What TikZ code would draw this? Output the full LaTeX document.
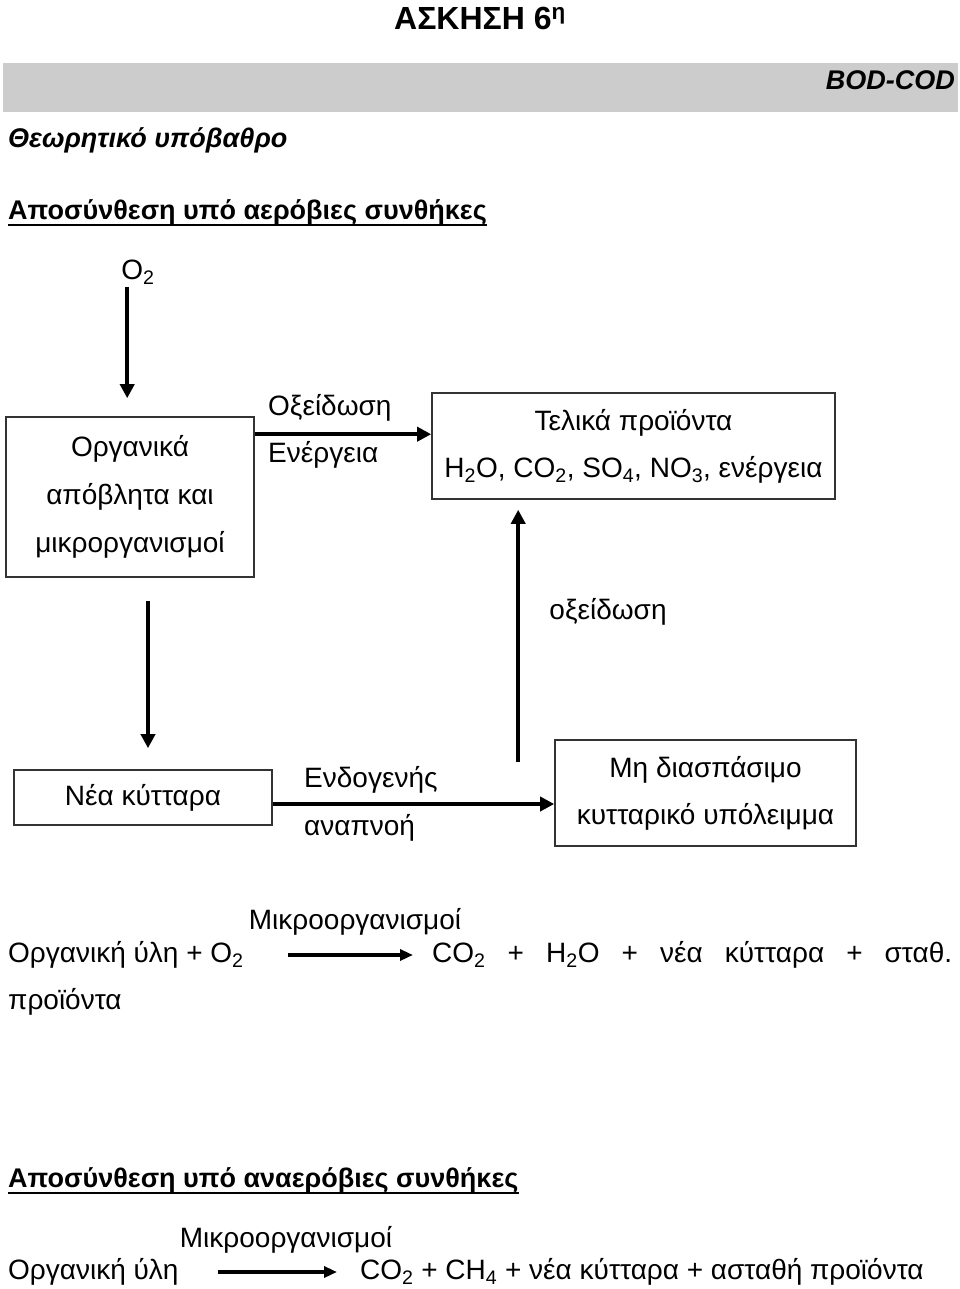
\documentclass[tikz,border=0pt]{standalone}
\usepackage{fontspec}
\setmainfont{Liberation Sans}
\usetikzlibrary{arrows.meta,calc}

\begin{document}
\begin{tikzpicture}[x=1pt,y=-1pt,font=\fontsize{28}{34}\selectfont,
  box/.style={draw=black!80,line width=1.6pt,align=center,inner sep=0pt},
  txt/.style={anchor=west,inner sep=0pt},
  flow/.style={-{Triangle[length=14pt,width=14pt]},line width=3.5pt},
  eqarr/.style={-{Triangle[length=13pt,width=11pt]},line width=3.2pt},
  uline/.style={line width=2pt}]
\useasboundingbox (0,0) rectangle (960,1289);
% header
\fill[black!20] (3,63) rectangle (958,112);
\node[inner sep=0pt,font=\fontsize{32}{38}\bfseries\selectfont] (title) at (480,18) {ΑΣΚΗΣΗ 6\textsuperscript{η}};
\node[anchor=east,inner sep=0pt,font=\fontsize{27}{32}\bfseries\itshape\selectfont] (bod) at (955,80) {BOD-COD};
\node[txt,font=\fontsize{27}{32}\bfseries\itshape\selectfont] (theory) at (8,140) {Θεωρητικό υπόβαθρο};
\node[txt,font=\fontsize{27}{32}\bfseries\selectfont] (aer) at (8,212) {Αποσύνθεση υπό αερόβιες συνθήκες};
\draw[uline] ([yshift=-6pt]aer.base west) -- ([yshift=-6pt]aer.base east);

% aerobic scheme
\node[inner sep=0pt] (o2) at (138,272) {O\textsubscript{2}};
\node[box,minimum width=248pt,minimum height=160pt,font=\fontsize{28}{48}\selectfont] (waste) at (130,497) {Οργανικά\\απόβλητα και\\μικροργανισμοί};
\node[box,minimum width=403pt,minimum height=106pt,font=\fontsize{28}{47}\selectfont] (final) at (633.5,446) {Τελικά προϊόντα\\H\textsubscript{2}O, CO\textsubscript{2}, SO\textsubscript{4}, NO\textsubscript{3}, ενέργεια};
\node[box,minimum width=258pt,minimum height=55pt] (cells) at (143,797.5) {Νέα κύτταρα};
\node[box,minimum width=301pt,minimum height=106pt,font=\fontsize{28}{47}\selectfont] (resid) at (705.5,793) {Μη διασπάσιμο\\κυτταρικό υπόλειμμα};

\coordinate (a1) at ([yshift=-18pt]waste.north east);
\coordinate (a2) at ([xshift=18pt,yshift=-23pt]waste.south);
\coordinate (a3) at ([xshift=87pt,yshift=-10pt]final.south west);
\coordinate (a4) at ([yshift=-6.5pt]cells.east);

\draw[flow] ([xshift=6pt,yshift=-2pt]o2.south west) -- ([xshift=6pt,yshift=18pt]o2.south west |- waste.north);
\draw[flow] (a1) -- (a1 -| final.west);
\draw[flow] (a2) -- ([yshift=21pt]a2 |- cells.north);
\draw[flow] ([yshift=-23pt]a3 |- resid.north) -- (a3);
\draw[flow] (a4) -- (a4 -| resid.west);

\node[txt] (ox1) at (268,408) {Οξείδωση};
\node[txt] (en1) at (268,455) {Ενέργεια};
\node[inner sep=0pt] (ox2) at (608,612) {οξείδωση};
\node[txt] (endo) at (304,780) {Ενδογενής};
\node[txt] (resp) at (304,828) {αναπνοή};

% reaction 1
\node[txt] (org1) at (8,955) {Οργανική ύλη + O\textsubscript{2}};
\node[txt] (out1) at (432,955) {\makebox[520pt][s]{CO\textsubscript{2} + H\textsubscript{2}O + νέα κύτταρα + σταθ.}};
\node[inner sep=0pt] (mic1) at (355,922) {Μικροοργανισμοί};
\node[txt] (rest1) at (8,1002) {προϊόντα};
\coordinate (e1) at (288,955);
\draw[eqarr] (e1) -- ([xshift=-19pt]e1 -| out1.west);

% anaerobic
\node[txt,font=\fontsize{27}{32}\bfseries\selectfont] (anaer) at (8,1180) {Αποσύνθεση υπό αναερόβιες συνθήκες};
\draw[uline] ([yshift=-6pt]anaer.base west) -- ([yshift=-6pt]anaer.base east);
\node[txt] (org2) at (8,1272) {Οργανική ύλη};
\node[txt] (out2) at (360,1272) {CO\textsubscript{2} + CH\textsubscript{4} + νέα κύτταρα + ασταθή προϊόντα};
\node[inner sep=0pt] (mic2) at (286,1240) {Μικροοργανισμοί};
\coordinate (e2) at (218,1272);
\draw[eqarr] (e2) -- ([xshift=-23pt]e2 -| out2.west);
\end{tikzpicture}
\end{document}
